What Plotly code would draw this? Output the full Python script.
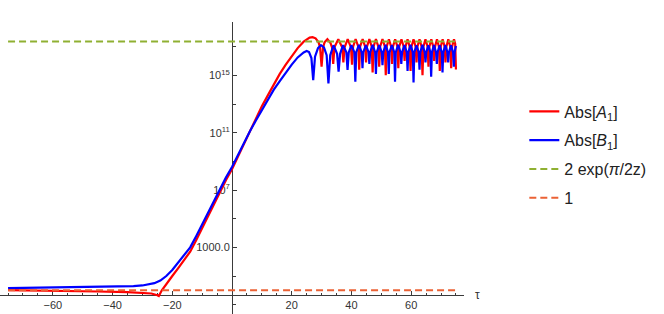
import plotly.graph_objects as go

# ---------------- data ----------------
# |A1|  : (tau, log10 |A1|)
abs_A_points = [
    (-75, 0.02), (-65, 0.0), (-55, -0.04), (-45, -0.08), (-35, -0.13), (-30, -0.17),
    (-27, -0.22), (-25, -0.34), (-24.5, -0.4), (-23.5, 0.0), (-22, 0.45), (-20, 1.0),
    (-18, 1.55), (-16, 2.12), (-14, 2.7), (-12, 3.5), (-10, 4.35), (-8, 5.2),
    (-6, 6.05), (-4, 6.9), (-2, 7.7), (0, 8.45), (2, 9.35), (4, 10.25), (6, 11.15),
    (8, 12.0), (10, 12.85), (12, 13.6), (14, 14.4), (16, 15.1), (18, 15.75),
    (20, 16.35), (22, 16.9), (24, 17.35), (26, 17.63), (27, 17.66), (28, 17.58),
    (29, 17.3), (29.5, 16.95), (30.0, 15.6), (30.5, 16.95), (31.0, 17.3), (31.95, 17.52),
    (33.0, 17.25), (33.5, 16.95), (33.9, 15.8), (34.3, 16.95), (35.6, 17.52),
    (36.9, 16.95), (37.3, 15.9), (37.7, 16.95), (38.75, 17.52),
    (39.85, 16.95), (40.2, 15.75), (40.55, 17.0), (41.4, 17.52),
    (42.3, 17.0), (42.6, 15.4), (42.9, 17.0), (43.75, 17.52),
    (44.6, 17.0), (44.9, 15.9), (45.2, 17.0), (46.0, 17.52),
    (46.8, 17.0), (47.1, 15.2), (47.4, 17.0), (48.2, 17.52),
    (49.0, 17.0), (49.3, 15.6), (49.6, 17.0), (50.4, 17.52),
    (51.2, 17.0), (51.5, 15.0), (51.8, 17.0), (52.55, 17.52),
    (53.3, 17.0), (53.6, 15.8), (53.9, 17.0), (54.65, 17.52),
    (55.4, 17.0), (55.7, 15.5), (56.0, 17.0), (56.75, 17.52),
    (57.5, 17.0), (57.8, 16.0), (58.1, 17.0), (58.8, 17.52),
    (59.5, 17.0), (59.8, 15.3), (60.1, 17.0), (60.8, 17.52),
    (61.5, 17.0), (61.8, 15.9), (62.1, 17.0), (62.8, 17.52),
    (63.5, 17.0), (63.8, 15.0), (64.1, 17.0), (64.8, 17.52),
    (65.5, 17.0), (65.8, 15.6), (66.1, 17.0), (66.75, 17.52),
    (67.4, 17.0), (67.7, 16.0), (68.0, 17.0), (68.65, 17.52),
    (69.3, 17.0), (69.6, 15.3), (69.9, 17.0), (70.55, 17.52),
    (71.2, 17.0), (71.5, 15.9), (71.8, 17.0), (72.45, 17.52),
    (73.1, 17.0), (73.4, 15.5), (73.7, 17.0), (74.35, 17.52),
    (74.75, 17.2), (75.0, 15.4),
]

# |B1|  : (tau, log10 |B1|)
abs_B_points = [
    (-75, 0.15), (-65, 0.18), (-55, 0.2), (-45, 0.23), (-38, 0.26), (-33, 0.3),
    (-30, 0.34), (-28, 0.4), (-26, 0.5), (-24, 0.68), (-22, 1.0), (-20, 1.42),
    (-18, 1.93), (-16, 2.46), (-14, 3.0), (-12, 3.78), (-10, 4.6), (-8, 5.43),
    (-6, 6.26), (-4, 7.1), (-2, 7.88), (0, 8.6), (2, 9.45), (4, 10.3), (6, 11.1),
    (8, 11.85), (10, 12.6), (12, 13.3), (14, 14.0), (16, 14.6), (18, 15.2),
    (20, 15.75), (22, 16.25), (24, 16.6), (25.0, 16.7), (25.8, 16.62), (26.6, 16.2),
    (27.2, 14.67), (27.8, 16.3), (28.8, 16.9), (29.8, 17.1), (30.8, 16.95),
    (31.7, 16.4), (32.3, 14.44), (32.9, 16.4), (34.0, 17.1), (35.2, 16.5),
    (35.7, 15.25), (36.2, 16.5), (37.2, 17.1), (38.3, 16.6), (38.7, 15.37),
    (39.1, 16.6), (40.0, 17.1), (41.0, 16.6), (41.3, 14.55), (41.6, 16.6),
    (42.5, 17.12), (43.45, 16.6), (43.7, 15.5), (43.95, 16.6), (44.85, 17.1),
    (45.75, 16.6), (46.0, 15.8), (46.25, 16.6), (47.1, 17.12), (47.95, 16.6),
    (48.2, 15.1), (48.45, 16.6), (49.3, 17.1), (50.15, 16.6), (50.4, 15.7),
    (50.65, 16.6), (51.45, 17.12), (52.25, 16.6), (52.5, 15.1), (52.75, 16.6),
    (53.55, 17.1), (54.35, 16.6), (54.6, 14.55), (54.85, 16.6), (55.65, 17.12),
    (56.45, 16.6), (56.7, 15.8), (56.95, 16.6), (57.75, 17.1), (58.55, 16.6),
    (58.8, 15.3), (59.05, 16.6), (59.8, 17.12), (60.55, 16.6), (60.8, 14.5),
    (61.05, 16.6), (61.8, 17.1), (62.55, 16.6), (62.8, 15.4), (63.05, 16.6),
    (63.8, 17.12), (64.55, 16.6), (64.8, 15.9), (65.05, 16.6), (65.75, 17.1),
    (66.45, 16.6), (66.7, 14.9), (66.95, 16.6), (67.65, 17.12), (68.35, 16.6),
    (68.6, 15.8), (68.85, 16.6), (69.55, 17.1), (70.25, 16.6), (70.5, 15.2),
    (70.75, 16.6), (71.45, 17.12), (72.15, 16.6), (72.4, 15.9), (72.65, 16.6),
    (73.35, 17.1), (74.05, 16.6), (74.3, 15.6), (74.55, 16.6), (75.0, 17.05),
]

# reference levels
level_tau = [-75, 75]
level_growth = [2.27e17, 2.27e17]   # 2 exp(pi/2z)
level_one = [1, 1]

x_tick_vals = [-60, -40, -20, 20, 40, 60]
y_tick_vals = [1e3, 1e7, 1e11, 1e15]
y_tick_text = ["1000.0", "10<sup>7</sup>", "10<sup>11</sup>", "10<sup>15</sup>"]
y_minor_vals = [1e-1, 1e1, 1e5, 1e9, 1e13, 1e17]

legend_names = ["Abs[<i>A</i><sub>1</sub>]", "Abs[<i>B</i><sub>1</sub>]",
                "2 exp(<i>π</i>/2z)", "1"]

# ---------------- figure ----------------
tau_A = [p[0] for p in abs_A_points]
val_A = [10 ** p[1] for p in abs_A_points]
tau_B = [p[0] for p in abs_B_points]
val_B = [10 ** p[1] for p in abs_B_points]

FONT = "Liberation Sans, Arial, sans-serif"

fig = go.Figure()
fig.add_trace(go.Scatter(x=tau_A, y=val_A, mode="lines", name=legend_names[0],
                         line=dict(color="#FF0000", width=2.2), legendgroup="a"))
fig.add_trace(go.Scatter(x=tau_B, y=val_B, mode="lines", name=legend_names[1],
                         line=dict(color="#0000FF", width=2.2), legendgroup="b"))
fig.add_trace(go.Scatter(x=level_tau, y=level_growth, mode="lines", name=legend_names[2],
                         line=dict(color="#8FB032", width=2, dash="7px,4px"), legendgroup="c"))
fig.add_trace(go.Scatter(x=level_tau, y=level_one, mode="lines", name=legend_names[3],
                         line=dict(color="#EB6235", width=2, dash="7px,4px"), legendgroup="d"))

axis_color = "#3a3a3a"
fig.update_layout(
    width=664, height=314,
    margin=dict(l=0, r=200, t=22, b=0, autoexpand=False),
    paper_bgcolor="white", plot_bgcolor="white",
    font=dict(family=FONT, color="#333333", size=11),
    xaxis=dict(range=[-77.7, 77.7], anchor="free", position=0.065,
               showline=True, linecolor=axis_color, linewidth=1,
               showgrid=False, zeroline=False, automargin=False,
               ticks="inside", ticklen=4, tickcolor=axis_color,
               tickmode="array", tickvals=x_tick_vals,
               minor=dict(ticks="inside", dtick=5, ticklen=2.5, tickcolor=axis_color),
               tickfont=dict(size=11, color="#333333"), layer="below traces"),
    yaxis=dict(type="log", range=[-1.65, 18.72], anchor="free", position=0.5,
               showline=True, linecolor=axis_color, linewidth=1,
               showgrid=False, zeroline=False, automargin=False,
               ticks="inside", ticklen=4, tickcolor=axis_color,
               tickmode="array", tickvals=y_tick_vals, ticktext=y_tick_text,
               minor=dict(ticks="inside", tickmode="array", tickvals=y_minor_vals,
                          ticklen=2.5, tickcolor=axis_color),
               tickfont=dict(size=11, color="#333333"), layer="below traces"),
    legend=dict(x=1.13, y=0.752, xanchor="left", yanchor="top",
                font=dict(size=16, family=FONT, color="#222222"),
                tracegroupgap=5, bgcolor="rgba(0,0,0,0)"),
    showlegend=True,
)

fig.add_annotation(text="τ", xref="paper", yref="paper", x=1.03, y=0.065,
                   xanchor="center", yanchor="middle", showarrow=False,
                   font=dict(size=12, family=FONT, color="#333333"))

fig.write_html("out.html",
               config={"displayModeBar": False},
               post_script="document.body.style.margin='0';document.body.style.overflow='hidden';")
